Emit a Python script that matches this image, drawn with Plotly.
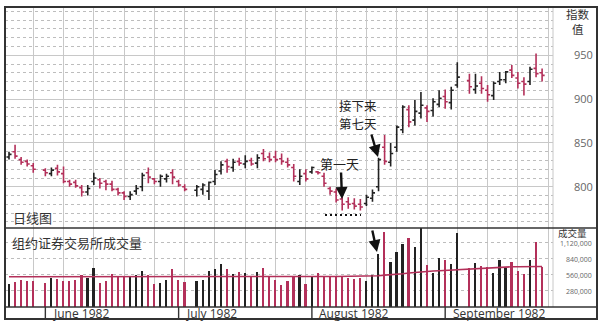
import plotly.graph_objects as go

# ---------------- data ----------------
# trading-day slot index (weekday count from Mon 24 May 1982; holidays skipped)
day = [0,1,2,3,4,6,7,8,9,10,11,12,13,14,15,16,17,18,19,20,21,22,23,24,25,26,27,28,29,
       31,32,33,34,35,36,37,38,39,40,41,42,43,44,45,46,47,48,49,50,51,52,53,54,55,56,57,58,59,60,61,62,
       63,64,65,66,67,68,69,70,71,72,73,74,76,77,78,79,80,81,82,83,84,85,86,87,88]
high = [840,848,834,831,827,821,822,825,823,808,808,802,802,816,810,808,807,799,795,795,802,816,822,810,814,815,820,808,803,
        802,804,806,819,829,832,832,833,836,833,837,843,839,841,838,833,826,820,820,823,818,816,800,798,789,788,787,786,791,797,833,859,
        850,870,893,893,899,908,893,901,910,911,914,942,929,929,926,916,920,931,932,939,931,925,937,952,935]
low = [831,832,825,823,816,812,812,813,804,800,799,789,790,802,798,796,795,790,785,785,791,795,804,803,800,805,803,800,795,
       789,791,785,802,814,816,817,824,821,824,821,829,828,828,825,822,806,802,806,815,814,800,791,782,773,775,774,773,778,783,795,825,
       823,840,861,868,870,878,874,880,891,889,888,913,906,906,906,897,899,916,918,924,912,904,916,925,920]
open_ = [834,840,831,829,824,819,815,821,815,806,805,799,794,806,808,806,803,797,793,789,795,800,816,809,806,809,816,806,800,
         796,797,795,806,818,829,822,829,826,830,827,838,834,834,832,828,822,806,815,817,817,812,798,794,786,783,781,780,781,787,800,845,
         828,845,865,888,876,884,890,887,894,903,896,916,921,911,918,910,904,920,922,933,924,920,920,935,930]
close = [837,835,828,826,820,816,819,817,806,803,801,794,798,810,804,803,797,793,789,791,798,813,811,806,812,812,811,802,797,
         800,802,805,814,825,823,828,827,829,826,833,832,831,831,829,825,812,812,809,822,816,804,795,785,780,780,778,777,788,793,831,829,
         838,868,891,874,886,893,886,897,901,897,910,925,914,915,912,905,918,922,931,927,918,917,934,929,927]
volume = [397,443,472,455,455,414,502,490,455,455,472,560,502,688,414,455,572,531,543,531,560,630,560,397,414,472,659,472,443,
          455,472,630,665,747,665,572,618,589,531,607,677,531,472,385,455,548,560,397,531,601,548,548,548,531,513,490,502,455,560,922,1318,
          782,957,1097,1213,1056,1450,735,589,863,823,747,1289,677,765,723,706,589,823,688,782,636,578,823,1131,706]
vol_avg = [528,528,529,529,530,530,531,531,531,530,530,531,531,533,532,531,532,532,532,531,531,532,532,530,528,527,528,527,525,
           522,520,520,521,523,525,525,526,527,527,528,530,530,529,527,527,528,529,528,529,531,532,533,534,534,534,534,535,535,537,545,556,
           562,571,582,595,605,620,625,628,634,640,645,655,672,678,685,690,695,698,700,703,704,705,706,708,708]
volume = [v * 1000 for v in volume]
vol_avg = [v * 1000 for v in vol_avg]

month_start = [6, 28, 50, 72]
month_label = ["June 1982", "July 1982", "August 1982", "September 1982"]
fridays = list(range(4, 90, 5))
price_ticks = [800, 850, 900, 950]
vol_ticks = [280000, 560000, 840000, 1120000]
vol_tick_text = ["280,000", "560,000", "840,000", "1,120,000"]

RED = "#b3305a"
BLACK = "#222222"
GRID = "#c8c8c8"

# ---------------- geometry ----------------
W, H = 606, 327
ML, MR, MT, MB = 5, 53, 7, 8
PW, PH = W - ML - MR, H - MT - MB
X0, DX = 9.0, 6.058              # pixel of slot 0, pixel per slot
xr = [(ML - X0) / DX, (ML + PW - X0) / DX]
FR_R = 597                       # frame right pixel

def px(xp):
    return (xp - ML) / PW

def py(yp):
    return (H - MB - yp) / PH

y_price_bot, y_vol_bot = 228, 307
dom_price = [py(y_price_bot), 1]
dom_vol = [py(y_vol_bot), py(y_price_bot)]
dom_date = [0, py(y_vol_bot)]

colors = [BLACK if c >= o else RED for o, c in zip(open_, close)]

fig = go.Figure()
fig.add_trace(go.Ohlc(
    x=day, open=open_, high=high, low=low, close=close,
    increasing=dict(line=dict(color=BLACK, width=1.6)),
    decreasing=dict(line=dict(color=RED, width=1.6)),
    tickwidth=0.42, xaxis="x", yaxis="y", hoverinfo="skip", showlegend=False))
fig.add_trace(go.Bar(
    x=day, y=volume, marker=dict(color=colors, line=dict(width=0)), width=0.28,
    xaxis="x2", yaxis="y2", hoverinfo="skip", showlegend=False))
fig.add_trace(go.Scatter(
    x=day, y=vol_avg, mode="lines", line=dict(color=RED, width=1.6),
    xaxis="x2", yaxis="y2", hoverinfo="skip", showlegend=False))

xcommon = dict(range=xr, showticklabels=False, ticks="", zeroline=False,
               tickvals=fridays, showgrid=True, gridcolor=GRID, gridwidth=1, showline=False)

fig.update_layout(
    width=W, height=H, margin=dict(l=ML, r=MR, t=MT, b=MB),
    paper_bgcolor="white", plot_bgcolor="white", showlegend=False,
    xaxis=dict(domain=[0, 1], anchor="y", rangeslider=dict(visible=False), **xcommon),
    xaxis2=dict(domain=[0, 1], anchor="y2", **xcommon),
    xaxis3=dict(domain=[0, 1], anchor="y3", range=xr, visible=False),
    yaxis=dict(domain=dom_price, range=[753, 1005], side="right", tickvals=price_ticks,
               ticks="", ticklabelstandoff=20, showgrid=True, gridcolor=GRID, gridwidth=1,
               zeroline=False, showline=False,
               tickfont=dict(family="Open Sans", size=11, color="#666"),
               minor=dict(dtick=10, tick0=0, showgrid=True, gridcolor="#bdbdbd", griddash="dot", gridwidth=1)),
    yaxis2=dict(domain=dom_vol, range=[0, 1380000], showticklabels=False, ticks="",
                tickvals=vol_ticks, showgrid=True, gridcolor="#bdbdbd", griddash="dot",
                zeroline=False, showline=False),
    yaxis3=dict(domain=dom_date, range=[0, 1], visible=False),
    bargap=0,
)

shapes = []
# light right edge of the plotting area
shapes.append(dict(type="line", xref="paper", yref="paper", x0=1, x1=1, y0=py(y_vol_bot), y1=1,
                   line=dict(color=GRID, width=1)))
# outer frame and panel separators
shapes.append(dict(type="rect", xref="paper", yref="paper", x0=px(5), x1=px(FR_R), y0=0, y1=1,
                   line=dict(color="#333", width=2)))
for yy in (y_price_bot, y_vol_bot):
    shapes.append(dict(type="line", xref="paper", yref="paper", x0=px(5), x1=px(FR_R), y0=py(yy), y1=py(yy),
                       line=dict(color="#333", width=1.6)))
# month separators in date strip
for m in month_start:
    shapes.append(dict(type="line", xref="x3", yref="paper", x0=m, x1=m, y0=0, y1=py(y_vol_bot),
                       line=dict(color="#333", width=1.4)))
# dotted marker under the lows
shapes.append(dict(type="line", xref="paper", yref="paper", x0=px(325), x1=px(361), y0=py(215), y1=py(215),
                   line=dict(color="#111", width=2, dash="2px,3px")))
fig.update_layout(shapes=shapes)

ann = []
for m, t in zip(month_start, month_label):
    ann.append(dict(x=m + 0.9, y=(py(y_vol_bot)) / 2, xref="x3", yref="paper", text=t, showarrow=False,
                    xanchor="left", yanchor="middle", font=dict(family="Open Sans", size=12, color="#333")))
for v, t in zip(vol_ticks, vol_tick_text):
    ann.append(dict(x=px(593), y=v, xref="paper", yref="y2", text=t, showarrow=False, yshift=-1,
                    xanchor="right", yanchor="middle", borderpad=0,
                    font=dict(family="Open Sans", size=7, color="#666")))
CJK = "Noto Sans CJK SC"
ann.append(dict(x=px(578), y=py(13.5), xref="paper", yref="paper", text="指数", showarrow=False, borderpad=0,
                xanchor="center", yanchor="middle", font=dict(family=CJK, size=11.5, color="#333")))
ann.append(dict(x=px(578), y=py(29.5), xref="paper", yref="paper", text="值", showarrow=False, borderpad=0,
                xanchor="center", yanchor="middle", font=dict(family=CJK, size=11.5, color="#333")))
ann.append(dict(x=px(572), y=py(233), xref="paper", yref="paper", text="成交量", showarrow=False, borderpad=0,
                xanchor="center", yanchor="middle", font=dict(family=CJK, size=9.5, color="#333")))
ann.append(dict(x=px(11), y=py(217), xref="paper", yref="paper", text="日线图", showarrow=False,
                xanchor="left", yanchor="middle", font=dict(family=CJK, size=13, color="#333")))
ann.append(dict(x=px(10), y=py(242), xref="paper", yref="paper", text="组约证券交易所成交量", showarrow=False,
                xanchor="left", yanchor="middle", font=dict(family=CJK, size=13, color="#333")))
ann.append(dict(x=px(340), y=py(163), xref="paper", yref="paper", text="第一天", showarrow=False,
                xanchor="center", yanchor="middle", font=dict(family=CJK, size=13, color="#222")))
ann.append(dict(x=px(358), y=py(105.5), xref="paper", yref="paper", text="接下来", showarrow=False, borderpad=0,
                xanchor="center", yanchor="middle", font=dict(family=CJK, size=12.5, color="#222")))
ann.append(dict(x=px(358), y=py(123.5), xref="paper", yref="paper", text="第七天", showarrow=False, borderpad=0,
                xanchor="center", yanchor="middle", font=dict(family=CJK, size=12.5, color="#222")))
# arrows (tip, tail) in pixels
for (tx, ty), (sx, sy) in [((342, 199), (341, 171)), ((378, 157), (371, 133)), ((377, 252), (372, 229))]:
    ann.append(dict(x=px(tx), y=py(ty), xref="paper", yref="paper", ax=sx - tx, ay=sy - ty,
                    axref="pixel", ayref="pixel", text="", showarrow=True,
                    arrowhead=2, arrowsize=1, arrowwidth=2.4, arrowcolor="#111"))
fig.update_layout(annotations=ann)

fig.write_html("out.html")
